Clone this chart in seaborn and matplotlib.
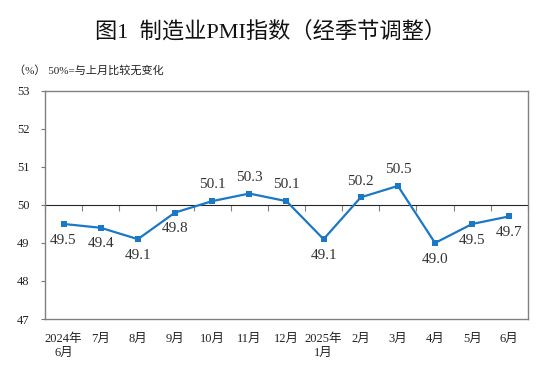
import numpy as np
import pandas as pd
import matplotlib
matplotlib.use("Agg")
import matplotlib.pyplot as plt
import seaborn as sns

# data
months = ["2024年\n6月", "7月", "8月", "9月", "10月", "11月", "12月",
          "2025年\n1月", "2月", "3月", "4月", "5月", "6月"]
pmi = [49.5, 49.4, 49.1, 49.8, 50.1, 50.3, 50.1, 49.1, 50.2, 50.5, 49.0, 49.5, 49.7]
y_ticks = [47, 48, 49, 50, 51, 52, 53]

sns.set_style("white")
plt.rcParams["font.family"] = ["Liberation Serif", "Noto Sans CJK SC", "DejaVu Sans"]

df = pd.DataFrame({"pos": np.arange(len(months)), "pmi": pmi})

fig = plt.figure(figsize=(5.42, 3.65), dpi=100)
ax = fig.add_axes([0.083, 0.126, 0.891, 0.625])

line_col = "#1a78c4"
sns.lineplot(data=df, x="pos", y="pmi", ax=ax, color=line_col, lw=1.6,
             marker="s", markersize=5, markeredgewidth=0, markerfacecolor=line_col)

# value labels: above when >= 50, below otherwise
for x, v in zip(df["pos"], df["pmi"]):
    if v >= 50:
        ax.annotate(f"{v:.1f}", (x, v), xytext=(0, 7), textcoords="offset points",
                    ha="center", va="bottom", fontsize=11, color="#333333")
    else:
        ax.annotate(f"{v:.1f}", (x, v), xytext=(0, -7), textcoords="offset points",
                    ha="center", va="top", fontsize=11, color="#333333")

ax.set_xlim(-0.5, len(months) - 0.5)
ax.set_ylim(47, 53)
ax.set_yticks(y_ticks)
ax.set_yticklabels([str(t) for t in y_ticks])
ax.set_xticks(df["pos"])
ax.set_xticklabels(months, fontsize=9, linespacing=1.25)
ax.set_xlabel("")
ax.set_ylabel("")
ax.tick_params(axis="x", length=0, pad=10, colors="#222222")
ax.tick_params(axis="y", direction="out", length=3, width=0.8, color="#777777",
               labelsize=9, labelcolor="#222222", pad=8, left=True)

for s in ax.spines.values():
    s.set_color("#808080")
    s.set_linewidth(1.0)

# 50 reference line with ticks between months
sec = ax.secondary_xaxis(0.5)
sec.set_xticks(np.arange(len(months) + 1) - 0.5)
sec.tick_params(direction="in", length=4, width=0.8, color="#808080",
                labelbottom=False, labeltop=False)
sec.spines["bottom"].set_color("#808080")
sec.spines["bottom"].set_linewidth(1.0)

fig.text(0.5, 0.912, "图1  制造业PMI指数（经季节调整）", ha="center", va="center",
         fontsize=16, fontweight="medium", color="#111111")
fig.text(0.025, 0.808, "（%） 50%=与上月比较无变化", ha="left", va="center",
         fontsize=8, color="#222222")

fig.savefig("out.png", dpi=100)
